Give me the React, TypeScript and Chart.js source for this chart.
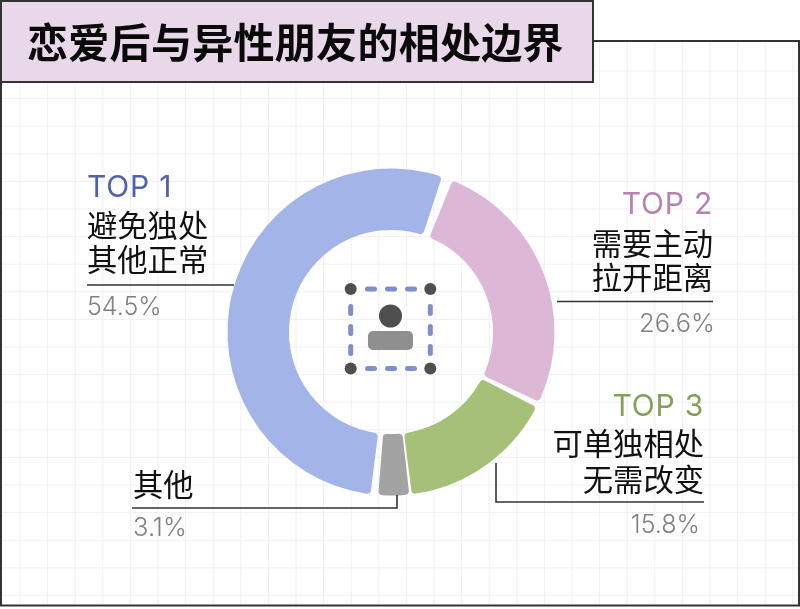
import React, { useEffect, useRef } from "react";
import { Chart, registerables } from "chart.js";

Chart.register(...registerables);

const categories = ["需要主动拉开距离", "可单独相处无需改变", "其他", "避免独处其他正常"];
const shares = [26.6, 15.8, 3.1, 54.5];
const sliceColors = ["#DDB7D6", "#A6C077", "#A3A3A3", "#A3B5E8"];
const titleText = "恋爱后与异性朋友的相处边界";

const INK = "#333333";
const cjk = '"Noto Sans CJK SC", "Noto Sans", sans-serif';
const latin = 'Inter, "Noto Sans", sans-serif';

const chrome = {
  id: "chrome",
  beforeDraw(chart: any) {
    const c = chart.ctx;
    c.save();
    c.fillStyle = "#fff";
    c.fillRect(0, 0, 800, 609);
    c.strokeStyle = "#F0F0F2";
    c.lineWidth = 1;
    for (let x = 20; x < 798; x += 27.6) {
      c.beginPath(); c.moveTo(x, 42); c.lineTo(x, 604); c.stroke();
    }
    for (let y = 71; y < 604; y += 27.6) {
      c.beginPath(); c.moveTo(2, y); c.lineTo(798, y); c.stroke();
    }
    c.strokeStyle = INK;
    c.lineWidth = 2;
    c.strokeRect(1, 41, 798, 564.5);
    c.fillStyle = "#E9D8EA";
    c.fillRect(1, 1, 592, 81);
    c.strokeRect(1, 1, 592, 81);
    c.restore();
  },
  afterDraw(chart: any) {
    const c = chart.ctx;
    c.save();
    c.strokeStyle = INK;
    c.lineWidth = 1.6;
    const poly = (pts: number[][]) => {
      c.beginPath();
      pts.forEach(([x, y], i) => (i ? c.lineTo(x, y) : c.moveTo(x, y)));
      c.stroke();
    };
    poly([[87, 285], [234, 285]]);
    poly([[557, 301.5], [713, 301.5]]);
    poly([[496, 463], [496, 502], [704, 502]]);
    poly([[397, 495], [397, 508], [132, 508]]);

    c.strokeStyle = "#7F8FC9";
    c.lineWidth = 5;
    c.lineCap = "round";
    for (const s of [367.5, 387.5, 407.5]) {
      poly([[s, 289], [s + 7, 289]]);
      poly([[s, 368.5], [s + 7, 368.5]]);
    }
    for (const s of [306.5, 326.5, 346.5]) {
      poly([[350.7, s], [350.7, s + 7]]);
      poly([[430.3, s], [430.3, s + 7]]);
    }
    c.fillStyle = "#4F4F4F";
    for (const [x, y] of [[350.7, 289], [430.3, 289], [350.7, 368.5], [430.3, 368.5]]) {
      c.beginPath(); c.arc(x, y, 6, 0, Math.PI * 2); c.fill();
    }
    c.beginPath(); c.arc(390.5, 316, 11.5, 0, Math.PI * 2); c.fill();
    c.fillStyle = "#8F8F8F";
    c.beginPath(); c.roundRect(368, 331, 45, 19, 5); c.fill();
    c.restore();
  },
};

type LabelProps = { text: string; x: number; cy: number; right?: boolean; font: string; size: number; color: string; weight?: number; spacing?: number };
function Label({ text, x, cy, right, font, size, color, weight = 400, spacing = 0 }: LabelProps) {
  return (
    <div
      style={{
        position: "absolute",
        top: cy - 30,
        height: 60,
        lineHeight: "60px",
        ...(right ? { right: 800 - x, textAlign: "right" as const } : { left: x }),
        fontFamily: font,
        fontSize: size,
        color,
        fontWeight: weight,
        letterSpacing: spacing,
        whiteSpace: "nowrap",
      }}
    >
      {text}
    </div>
  );
}

export default function App() {
  const ref = useRef<HTMLCanvasElement>(null);
  useEffect(() => {
    const chart = new Chart(ref.current!, {
      type: "doughnut",
      data: {
        labels: categories,
        datasets: [
          {
            data: shares,
            backgroundColor: sliceColors,
            borderWidth: 0,
            borderRadius: 4,
            spacing: 7,
          },
        ],
      },
      options: {
        responsive: false,
        animation: false,
        rotation: 20.8,
        cutout: "61.6%",
        layout: { padding: { left: 227.5, right: 245.5, top: 168.5, bottom: 113.5 } },
        plugins: { legend: { display: false }, tooltip: { enabled: false } },
      },
      plugins: [chrome],
    } as any);
    return () => chart.destroy();
  }, []);

  const pct = (i: number) => `${shares[i].toFixed(1)}%`;
  return (
    <div style={{ position: "absolute", left: 0, top: 0, width: 800, height: 609, overflow: "hidden", background: "#fff" }}>
      <canvas ref={ref} width={800} height={609} style={{ display: "block" }} />
      <Label text={titleText} x={27} cy={40} font={cjk} size={41} color="#0A0A0A" weight={700} spacing={0.3} />

      <Label text="TOP 1" x={87} cy={186} font={latin} size={30} color="#4F61A8" spacing={0.8} />
      <Label text="避免独处" x={87} cy={224} font={cjk} size={30.3} color="#111" />
      <Label text="其他正常" x={87} cy={258} font={cjk} size={30.3} color="#111" />
      <Label text={pct(3)} x={87} cy={306} font={latin} size={25} color="#808080" weight={300} />

      <Label text="TOP 2" x={713} cy={203} right font={latin} size={30} color="#B583B0" spacing={0.8} />
      <Label text="需要主动" x={713} cy={242} right font={cjk} size={30.3} color="#111" />
      <Label text="拉开距离" x={713} cy={276} right font={cjk} size={30.3} color="#111" />
      <Label text={pct(0)} x={715} cy={323} right font={latin} size={25.5} color="#808080" weight={300} />

      <Label text="TOP 3" x={704} cy={405} right font={latin} size={30} color="#86A055" spacing={0.8} />
      <Label text="可单独相处" x={704} cy={442} right font={cjk} size={30.3} color="#111" />
      <Label text="无需改变" x={704} cy={477.5} right font={cjk} size={30.3} color="#111" />
      <Label text={pct(1)} x={700} cy={524} right font={latin} size={25} color="#808080" weight={300} />

      <Label text={categories[2]} x={133} cy={482.5} font={cjk} size={30.3} color="#111" />
      <Label text={pct(2)} x={133} cy={527} font={latin} size={25.5} color="#808080" weight={300} />
    </div>
  );
}
